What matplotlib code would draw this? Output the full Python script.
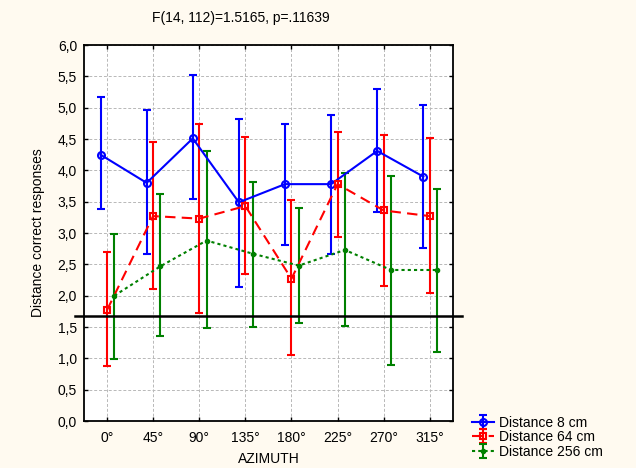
import matplotlib
matplotlib.use("Agg")
import matplotlib.pyplot as plt
import matplotlib.transforms as mtransforms
import numpy as np

plt.rcParams['font.family'] = ['Liberation Sans', 'DejaVu Sans']

azimuths = ["0°", "45°", "90°", "135°", "180°", "225°", "270°", "315°"]

mean_8 = [4.25, 3.80, 4.51, 3.49, 3.78, 3.78, 4.31, 3.90]
upper_8 = [5.17, 4.97, 5.52, 4.82, 4.74, 4.89, 5.30, 5.04]
lower_8 = [3.38, 2.66, 3.54, 2.14, 2.81, 2.66, 3.33, 2.76]

mean_64 = [1.77, 3.27, 3.23, 3.43, 2.27, 3.78, 3.36, 3.27]
upper_64 = [2.69, 4.45, 4.74, 4.54, 3.52, 4.61, 4.56, 4.52]
lower_64 = [0.87, 2.10, 1.72, 2.35, 1.05, 2.94, 2.16, 2.04]

mean_256 = [2.00, 2.47, 2.88, 2.67, 2.48, 2.73, 2.41, 2.41]
upper_256 = [2.99, 3.62, 4.31, 3.81, 3.40, 3.95, 3.91, 3.71]
lower_256 = [0.99, 1.36, 1.49, 1.50, 1.57, 1.52, 0.90, 1.10]

chance_level = 1.67
title_text = "F(14, 112)=1.5165, p=.11639"

FS = 10

fig = plt.figure(figsize=(6.36, 4.68), dpi=100, facecolor="#fffaf0")
ax = fig.add_axes([0.132, 0.1004, 0.580, 0.8034])
ax.set_facecolor("white")

x = np.arange(len(azimuths))
series = [
    ("Distance 8 cm", mean_8, upper_8, lower_8, -0.14, "#0000ff", "-", "o"),
    ("Distance 64 cm", mean_64, upper_64, lower_64, 0.0, "#ff0000", (0, (5, 3)), "s"),
    ("Distance 256 cm", mean_256, upper_256, lower_256, 0.16, "#008000", (0, (1.5, 1.5)), "."),
]

handles = []
for label, m, up, lo, off, col, ls, mk in series:
    m = np.array(m); up = np.array(up); lo = np.array(lo)
    err = np.vstack([m - lo, up - m])
    if mk == ".":
        mkw = dict(marker="o", markersize=3, markerfacecolor=col, markeredgecolor=col)
    else:
        mkw = dict(marker=mk, markersize=5, markerfacecolor="none",
                   markeredgecolor=col, markeredgewidth=1.5)
    h = ax.errorbar(x + off, m, yerr=err, color=col, linestyle=ls, linewidth=1.5,
                    elinewidth=1.5, capsize=3, capthick=1.5, label=label, **mkw)
    handles.append(h)

# reference line, running slightly past both spines
trans = mtransforms.blended_transform_factory(ax.transAxes, ax.transData)
ax.plot([-0.025, 1.025], [chance_level, chance_level], color="black",
        linewidth=1.8, zorder=5, clip_on=False, transform=trans)

ax.set_xlim(-0.5, len(azimuths) - 0.5)
ax.set_ylim(0, 6)
ax.set_xticks(x)
ax.set_xticklabels(azimuths)
yt = np.arange(0, 6.01, 0.5)
ax.set_yticks(yt)
ax.set_yticklabels([f"{v:.1f}".replace(".", ",") for v in yt])
ax.grid(True, color="#b8b8b8", linestyle=(0, (3, 2)), linewidth=0.7)
ax.set_axisbelow(True)
ax.tick_params(direction="in", length=3, width=1, labelsize=FS,
               top=True, right=True, colors="black", pad=5)
ax.tick_params(axis="x", pad=7)
for s in ax.spines.values():
    s.set_linewidth(1.3)

ax.set_xlabel("AZIMUTH", fontsize=FS, labelpad=5)
ax.set_ylabel("Distance correct responses", fontsize=FS, labelpad=9)
fig.text(241 / 636, 1 - 18 / 468, title_text, fontsize=FS, ha="center", va="center")

fig.legend(handles=handles, loc="lower left", bbox_to_anchor=(0.728, 0.0),
           frameon=False, fontsize=FS, handlelength=1.6, handletextpad=0.35,
           labelspacing=0.05, borderpad=0.15)

fig.savefig("out.png", dpi=100, facecolor=fig.get_facecolor())
